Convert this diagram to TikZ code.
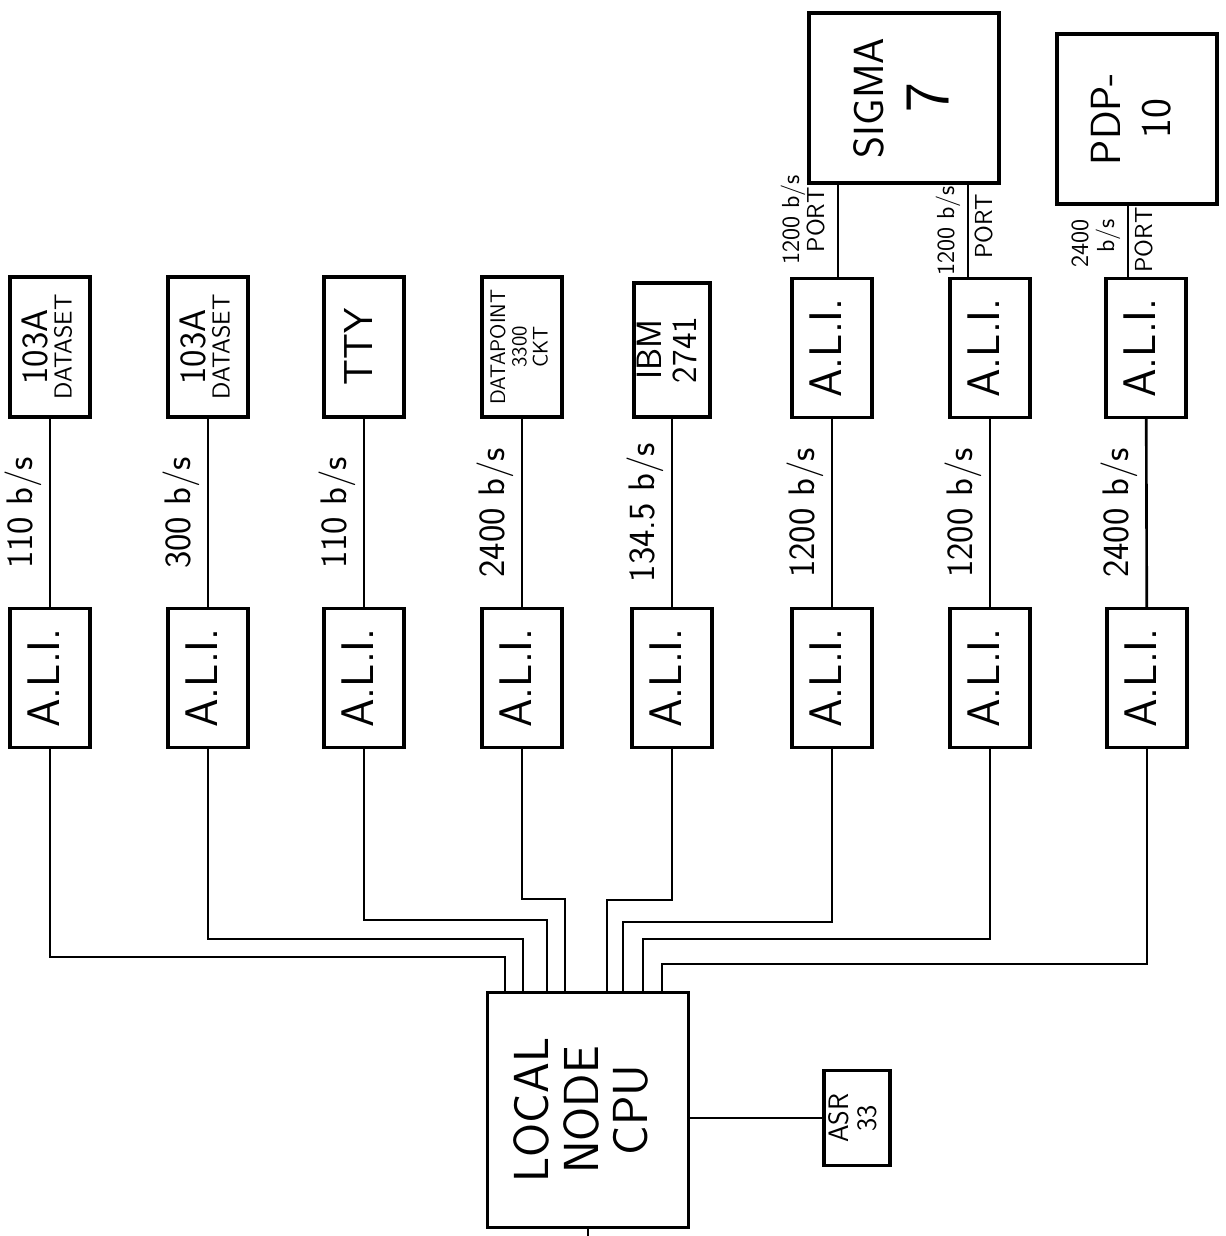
\documentclass[tikz,border=0pt]{standalone}
\usepackage{tikz}
\usetikzlibrary{positioning}
\newcommand{\fs}[1]{\fontsize{#1}{#1}\selectfont}
\newcommand{\rt}[1]{\rotatebox{90}{\begin{tabular}{@{}c@{}}#1\end{tabular}}}

\begin{document}
\begin{tikzpicture}[
  x=0.02cm, y=-0.02cm, line width=1.5pt,
  box/.style={draw, line width=1.9pt, inner sep=0pt, font=\sffamily},
  ali/.style={box, minimum width=1.6cm, minimum height=2.78cm, font=\sffamily\fs{26}},
  dev/.style={box, minimum width=1.6cm, minimum height=2.8cm},
  rate/.style={left, inner sep=3pt, font=\sffamily\fs{21}},
  port/.style={inner sep=3pt, font=\sffamily\fs{14}}
]
\useasboundingbox (0,0) rectangle (1225,1236);

\foreach \n/\x in {1/50,2/208,3/364,4/522,5/672,6/832,7/990,8/1147}
  \node[ali] (al\n) at (\x,678) {\rt{A.L.I.}};

\node[dev] (dev1) at (50,347) {\rt{{\fs{21}103A}\\{\fs{14}DATASET}}};
\node[dev] (dev2) at (208,347) {\rt{{\fs{21}103A}\\{\fs{14}DATASET}}};
\node[dev, font=\sffamily\fs{23}] (dev3) at (364,347) {\rt{TTY}};
\node[dev, font=\sffamily\fs{12}] (dev4) at (522,347) {\rt{DATAPOINT\\3300\\CKT}};
\node[dev, font=\sffamily\fs{20}, minimum width=1.52cm, minimum height=2.68cm] (dev5) at (672,350) {\rt{IBM\\2741}};
\foreach \n/\x in {6/832,7/990,8/1146}
  \node[ali] (au\n) at (\x,348) {\rt{A.L.I.}};

\node[box, minimum width=3.8cm, minimum height=3.4cm] (sigma) at (904,98)
  {\rt{{\fs{24}SIGMA}\\[10pt]{\fs{36}7}}};
\node[box, minimum width=3.2cm, minimum height=3.4cm, font=\sffamily\fs{24}] (pdp) at (1137,119)
  {\rt{PDP-\\[4pt]10}};
\node[box, minimum width=4.02cm, minimum height=4.7cm, font=\sffamily\fs{28}] (cpu) at (588,1110)
  {\rt{LOCAL\\NODE\\CPU}};
\node[box, minimum width=1.32cm, minimum height=1.9cm, font=\sffamily\fs{16}] (asr) at (857,1118)
  {\rt{ASR\\33}};

\foreach \a/\b/\r in {dev1/al1/{110 b/s}, dev2/al2/{300 b/s}, dev3/al3/{110 b/s},
    dev4/al4/{2400 b/s}, dev5/al5/{134.5 b/s}, au6/al6/{1200 b/s},
    au7/al7/{1200 b/s}, au8/al8/{2400 b/s}}
  \draw (\a) -- node[rate] {\rt{\r}} (\b);

\coordinate (p6) at ([xshift=0.12cm]au6.north);
\coordinate (p7) at ([xshift=-0.44cm]au7.north);
\coordinate (p8) at ([xshift=-0.36cm]au8.north);
\draw (p6) -- node[port, left, pos=0.62] {\rt{1200 b/s\\PORT}} (p6 |- sigma.south);
\draw (p7) -- node[port, left, pos=0.5] {\rt{1200 b/s}} node[port, right, pos=0.55] {\rt{PORT}} (p7 |- sigma.south);
\draw (p8) -- node[port, left, pos=0.47] {\rotatebox{90}{\begin{tabular}{@{}r@{}}2400\\b/s\end{tabular}}}
  node[port, right, pos=0.52] {\rt{PORT}} (p8 |- pdp.south);

\foreach \n/\d/\s in {1/208/-1.66, 2/190/-1.3, 3/171/-0.82, 4/150/-0.46,
    5/151/0.38, 6/173/0.7, 7/190/1.1, 8/215/1.48}
  \draw (al\n.south) -- ++(0,\d) -| ([xshift=\s cm]cpu.north);

\draw (cpu.east |- asr.west) -- (asr.west);
\coordinate (cpuend) at (593,1236);
\draw (cpu.south) -- (cpu.south |- cpuend);
\end{tikzpicture}
\end{document}
